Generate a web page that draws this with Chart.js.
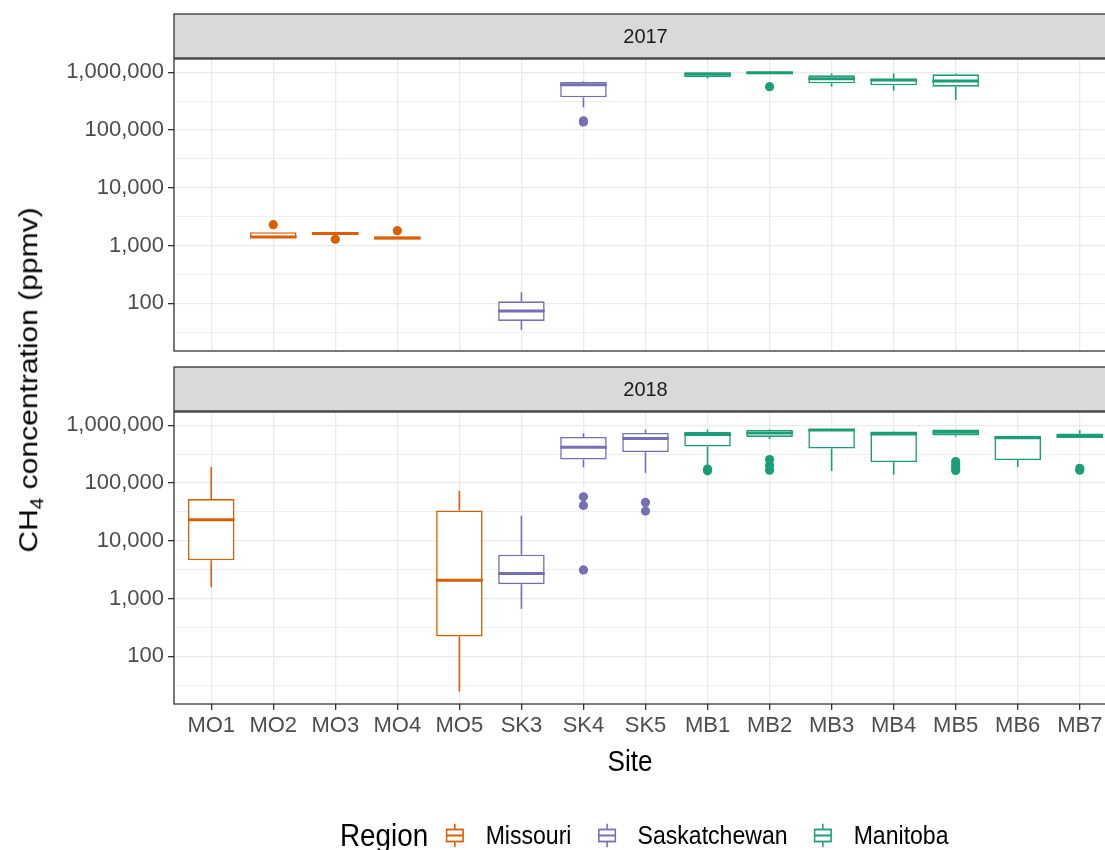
<!DOCTYPE html>
<html>
<head>
<meta charset="utf-8">
<title>CH4 concentration by site</title>
<script src="https://cdn.jsdelivr.net/npm/chart.js@4.4.1/dist/chart.umd.min.js"></script>
<style>
  html, body { margin: 0; padding: 0; background: #fff; width: 1105px; height: 850px; overflow: hidden; }
  #wrap { position: relative; width: 1105px; height: 850px; overflow: hidden;
          font-family: "Liberation Sans", Arial, Helvetica, sans-serif; color: #000; }
  #wrap canvas { position: absolute; left: 0; }
  #c2017 { top: 0; }
  #c2018 { top: 360px; }
  .ytitle { position: absolute; left: 29px; top: 380px; font-size: 30px; white-space: nowrap; line-height: 1;
            transform: translate(-50%, -50%) scaleX(0.87) rotate(-90deg); }
  .ytitle sub { font-size: 21px; vertical-align: -6px; line-height: 0; }
  .xtitle { position: absolute; left: 630px; top: 761px; font-size: 30px; line-height: 1;
            transform: translate(-50%, -50%) scaleX(0.87); }
  .legend { position: absolute; left: 340px; top: 835px; transform: translateY(-50%) scaleX(0.87);
            transform-origin: left center; display: flex; align-items: center; white-space: nowrap; }
  .legend .ltitle { font-size: 32px; margin-right: 20px; }
  .legend svg { display: block; margin-right: 24px; }
  .legend .item { font-size: 26.5px; margin-right: 30px; }
  .legend .item:last-child { margin-right: 0; }
</style>
</head>
<body>
<div id="wrap">
  <canvas id="c2017" width="1200" height="360"></canvas>
  <canvas id="c2018" width="1200" height="490"></canvas>
  <div class="ytitle">CH<sub>4</sub> concentration (ppmv)</div>
  <div class="xtitle">Site</div>
  <div class="legend" id="legend"></div>
</div>
<script>
// ---- sites and regions ----
const sites = ['MO1', 'MO2', 'MO3', 'MO4', 'MO5', 'SK3', 'SK4', 'SK5',
               'MB1', 'MB2', 'MB3', 'MB4', 'MB5', 'MB6', 'MB7'];
const siteRegion = ['Missouri', 'Missouri', 'Missouri', 'Missouri', 'Missouri',
                    'Saskatchewan', 'Saskatchewan', 'Saskatchewan',
                    'Manitoba', 'Manitoba', 'Manitoba', 'Manitoba', 'Manitoba', 'Manitoba', 'Manitoba'];
const regions = ['Missouri', 'Saskatchewan', 'Manitoba'];
const regionColors = ['#D95F02', '#7570B3', '#1B9E77'];

// ---- y axis breaks (ppmv) ----
const yMajorTicks = [100, 1000, 10000, 100000, 1000000];
const yMinorTicks = [31.62, 316.2, 3162, 31623, 316228];
const yLimits = [14.9, 1700000];

// ---- 2017 box statistics (ppmv), null = site not sampled ----
const lo2017  = [null, 1370, 1530, 1260, null, 34.5, 248000, null, 775000, 920000, 563000, 480000, 331000, null, null];
const q1_2017 = [null, 1370, 1540, 1270, null, 49.4, 369000, null, 825000, 925000, 645000, 595000, 563000, null, null];
const med2017 = [null, 1400, 1620, 1350, null, 73.6, 610000, null, 930000, 985000, 775000, 736000, 707000, null, null];
const q3_2017 = [null, 1700, 1720, 1440, null, 108, 679000, null, 1000000, 1020000, 887000, 775000, 923000, null, null];
const hi2017  = [null, 1700, 1730, 1450, null, 155, 700000, null, 1010000, 1030000, 960000, 960000, 960000, null, null];
const out2017 = [[], [2300], [1290], [1810], [], [], [145000, 138000], [], [], [563000], [], [], [], [], []];

// ---- 2018 box statistics (ppmv) ----
const lo2018  = [1570, null, null, null, 24.5, 664, 188000, 150000, 195000, 580000, 162000, 139000, 628000, 190000, 600000];
const q1_2018 = [4600, null, null, null, 221, 1770, 255000, 342000, 429000, 628000, 396000, 230000, 664000, 249000, 600000];
const med2018 = [23200, null, null, null, 2070, 2700, 417000, 589000, 690000, 736000, 830000, 707000, 757000, 608000, 660000];
const q3_2018 = [52700, null, null, null, 33600, 5750, 628000, 736000, 767000, 830000, 863000, 778000, 843000, 659000, 720000];
const hi2018  = [190000, null, null, null, 73400, 27200, 727000, 843000, 843000, 850000, 863000, 790000, 850000, 659000, 820000];
const out2018 = [[], [], [], [], [], [], [57800, 41000, 3130], [46200, 32700], [175000, 163000],
                 [255000, 204000, 167000], [], [], [235000, 205000, 180000, 165000], [], [180000, 167000]];

// ---- styling ----
const FONT = '"Liberation Sans", Arial, Helvetica, sans-serif';
const BOX_WIDTH = 0.75;          // box width in category units
const X_EXPAND = 0.6;            // discrete axis expansion on each side
const STRIP_H = 45;
const GRID = '#EBEBEB';
const DARK = '#333333';

const colorOf = i => regionColors[regions.indexOf(siteRegion[i])];
const isMajor = v => yMajorTicks.some(t => Math.abs(t - v) / t < 1e-6);

// facet strip + panel frame
const panelFrame = {
  id: 'panelFrame',
  afterDraw(chart, args, opts) {
    const { ctx, chartArea: { left, top, right, bottom } } = chart;
    ctx.save();
    ctx.fillStyle = '#D9D9D9';
    ctx.fillRect(left, top - STRIP_H, right - left, STRIP_H - 1);
    ctx.strokeStyle = DARK;
    ctx.lineWidth = 1.3;
    ctx.strokeRect(left, top - STRIP_H, right - left, STRIP_H - 1);
    ctx.strokeRect(left, top, right - left, bottom - top);
    ctx.fillStyle = '#1A1A1A';
    ctx.font = '20px ' + FONT;
    ctx.textAlign = 'center';
    ctx.textBaseline = 'middle';
    ctx.fillText(opts.title, (left + right) / 2, top - STRIP_H / 2 + 1);
    ctx.restore();
  }
};

function buildDatasets(lo, q1, med, q3, hi, out) {
  const idx = sites.map((_, i) => i).filter(i => q1[i] !== null);
  const outPts = [], outCols = [];
  out.forEach((arr, i) => arr.forEach(v => { outPts.push({ x: i, y: v }); outCols.push(colorOf(i)); }));
  const halfBox = ctx => {
    const xs = ctx.chart.scales.x;
    return Math.abs(xs.getPixelForValue(BOX_WIDTH / 2) - xs.getPixelForValue(0));
  };
  return [
    { type: 'bar', label: 'lower whisker', order: 3, grouped: false, maxBarThickness: 1.6,
      data: idx.map(i => ({ x: i, y: [lo[i], q1[i]] })),
      backgroundColor: idx.map(colorOf), borderWidth: 0 },
    { type: 'bar', label: 'upper whisker', order: 3, grouped: false, maxBarThickness: 1.6,
      data: idx.map(i => ({ x: i, y: [q3[i], hi[i]] })),
      backgroundColor: idx.map(colorOf), borderWidth: 0 },
    { type: 'bar', label: 'box', order: 2, grouped: false,
      categoryPercentage: BOX_WIDTH, barPercentage: 1,
      data: idx.map(i => ({ x: i, y: [q1[i], q3[i]] })),
      backgroundColor: '#FFFFFF', borderColor: idx.map(colorOf), borderWidth: 1.6, borderSkipped: false },
    { type: 'scatter', label: 'median', order: 1,
      data: idx.map(i => ({ x: i, y: med[i] })),
      pointStyle: 'line', pointRadius: halfBox, pointHoverRadius: halfBox,
      borderColor: idx.map(colorOf), pointBorderWidth: 3, borderWidth: 3 },
    { type: 'scatter', label: 'outliers', order: 4,
      data: outPts, pointStyle: 'circle', pointRadius: 4.6, pointHoverRadius: 4.6,
      backgroundColor: outCols, borderColor: outCols, borderWidth: 0 }
  ];
}

function makePanel(canvasId, title, stats, showX, padding, xAxisHeight) {
  return new Chart(document.getElementById(canvasId), {
    type: 'bar',
    data: { datasets: buildDatasets(...stats) },
    plugins: [panelFrame],
    options: {
      responsive: false,
      animation: false,
      events: [],
      layout: { padding },
      plugins: { legend: { display: false }, tooltip: { enabled: false }, panelFrame: { title } },
      scales: {
        x: {
          type: 'linear', offset: false,
          min: -X_EXPAND, max: sites.length - 1 + X_EXPAND,
          afterBuildTicks: s => { s.ticks = sites.map((_, i) => ({ value: i })); },
          afterFit: s => { s.height = xAxisHeight; s.paddingLeft = 0; s.paddingRight = 0; },
          ticks: { display: showX, autoSkip: false, maxRotation: 0, padding: 3,
                   callback: v => sites[v], color: '#4D4D4D', font: { family: FONT, size: 22 } },
          grid: { offset: false, color: GRID, lineWidth: 1.3, drawTicks: showX,
                  tickColor: DARK, tickLength: 6, tickWidth: 1.3 },
          border: { display: false }
        },
        y: {
          type: 'logarithmic', min: yLimits[0], max: yLimits[1],
          afterBuildTicks: s => {
            s.ticks = yMinorTicks.concat(yMajorTicks).sort((a, b) => a - b).map(v => ({ value: v }));
          },
          afterFit: s => { s.width = 174; s.paddingTop = 0; s.paddingBottom = 0; },
          ticks: { autoSkip: false, padding: 4, color: '#4D4D4D', font: { family: FONT, size: 22 },
                   callback: v => isMajor(v) ? Number(v).toLocaleString('en-US') : '' },
          grid: { color: GRID,
                  lineWidth: c => (c.tick && isMajor(c.tick.value)) ? 1.3 : 0.8,
                  tickColor: c => (c.tick && isMajor(c.tick.value)) ? DARK : 'rgba(0,0,0,0)',
                  tickLength: 6, tickWidth: 1.3 },
          border: { display: false }
        }
      }
    }
  });
}

makePanel('c2017', '2017', [lo2017, q1_2017, med2017, q3_2017, hi2017, out2017], false,
          { top: 59, right: 83, bottom: 9, left: 0 }, 0);
makePanel('c2018', '2018', [lo2018, q1_2018, med2018, q3_2018, hi2018, out2018], true,
          { top: 52, right: 83, bottom: 0, left: 0 }, 146);

// legend: boxplot key glyphs
const legend = document.getElementById('legend');
legend.innerHTML = '<span class="ltitle">Region</span>' + regions.map((r, k) => {
  const c = regionColors[k];
  const key = '<svg width="22" height="24" viewBox="0 0 22 24">' +
    '<line x1="11" y1="0" x2="11" y2="6" stroke="' + c + '" stroke-width="1.8"/>' +
    '<rect x="1.5" y="6" width="19" height="12" fill="#fff" stroke="' + c + '" stroke-width="1.8"/>' +
    '<line x1="1.5" y1="12" x2="20.5" y2="12" stroke="' + c + '" stroke-width="1.8"/>' +
    '<line x1="11" y1="18" x2="11" y2="24" stroke="' + c + '" stroke-width="1.8"/></svg>';
  return key + '<span class="item">' + r + '</span>';
}).join('');
</script>
</body>
</html>
